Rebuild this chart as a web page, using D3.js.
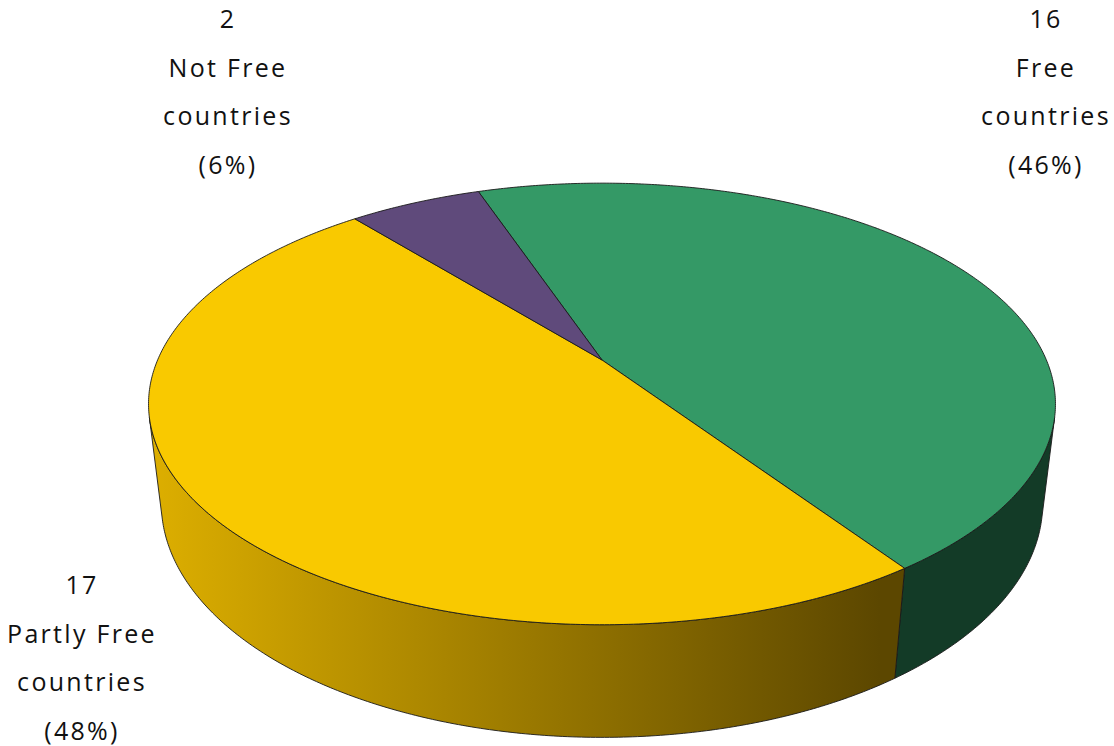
<!DOCTYPE html>
<html><head><meta charset="utf-8">
<script src="https://cdn.jsdelivr.net/npm/d3@7"></script>
<style>body{margin:0;background:#fff;overflow:hidden}</style>
</head><body>
<svg id="c" width="1114" height="746"></svg>
<script>
// ---- data ----
const categories = ["Free", "Partly Free", "Not Free"];
const counts = [16, 17, 2];
const percentLabels = ["46%", "48%", "6%"];
const labelWord = "countries";

// ---- styles ----
const topColors = ["#349966", "#F9C900", "#5F4A7B"];
const sideLight = ["#164330", "#DCAE00", "#4B3B62"];
const sideDark  = ["#133B27", "#5C4700", "#3A2D4C"];
const labelPos = [[1046, 28], [82, 594], [228, 28]]; // centre x, first baseline
const lineGap = 48.6;

const svg = d3.select("#c");

// ---- perspective projection of a flat cylinder ----
const phi = 28.5 * Math.PI / 180, Dist = 4.417, focal = 444.4 * Dist, depth = 0.258;
const cx = 602, cy = 360;
function proj(theta, h) {
  const x = Math.cos(theta), z = Math.sin(theta);
  const d = Dist - (h * Math.sin(phi) + z * Math.cos(phi));
  const u = h * Math.cos(phi) - z * Math.sin(phi);
  return [cx + focal * x / d, cy - focal * u / d];
}
function samples(t0, t1, h) {
  const n = Math.max(2, Math.ceil(Math.abs(t1 - t0) / (Math.PI / 360)));
  return d3.range(n + 1).map(i => proj(t0 + (t1 - t0) * i / n, h));
}
const line = d3.line();

const startDeg = -19.3;
const a0 = startDeg * Math.PI / 180;
const pie = d3.pie().sort(null).value(d => d).startAngle(a0).endAngle(a0 + 2 * Math.PI);
const arcs = pie(counts);

// gradients for walls
const defs = svg.append("defs");
arcs.forEach((a, i) => {
  const g = defs.append("linearGradient").attr("id", "side" + i)
    .attr("gradientUnits", "userSpaceOnUse")
    .attr("x1", 155).attr("x2", 880).attr("y1", 0).attr("y2", 0);
  g.append("stop").attr("offset", 0).attr("stop-color", sideLight[i]);
  g.append("stop").attr("offset", 1).attr("stop-color", sideDark[i]);
});

// visible range of outer wall
const tv0 = Math.asin(1 / (Dist * Math.cos(phi)));
const tv1 = Math.PI - tv0;

const walls = [];
arcs.forEach((a, i) => {
  const t0 = a.startAngle - Math.PI / 2, t1 = a.endAngle - Math.PI / 2;
  for (let k = -1; k <= 1; k++) {
    const lo = Math.max(t0, tv0 + 2 * Math.PI * k);
    const hi = Math.min(t1, tv1 + 2 * Math.PI * k);
    if (hi > lo) walls.push({ i, lo, hi });
  }
});

const gPie = svg.append("g");
gPie.selectAll("path.wall").data(walls).join("path")
  .attr("class", "wall")
  .attr("d", w => line(samples(w.lo, w.hi, 0).concat(samples(w.hi, w.lo, -depth))) + "Z")
  .attr("fill", w => `url(#side${w.i})`)
  .attr("stroke", "#1a1a1a").attr("stroke-width", 0.9).attr("stroke-linejoin", "round");

gPie.selectAll("path.top").data(arcs).join("path")
  .attr("class", "top")
  .attr("d", a => line([[cx, cy]].concat(
      samples(a.startAngle - Math.PI / 2, a.endAngle - Math.PI / 2, 0))) + "Z")
  .attr("fill", (a, i) => topColors[i])
  .attr("stroke", "#1a1a1a").attr("stroke-width", 0.9).attr("stroke-linejoin", "round");

// ---- labels ----
const gLab = svg.append("g")
  .attr("font-family", "'Open Sans', 'Noto Sans', sans-serif")
  .attr("font-size", 25).attr("letter-spacing", "2.3px").attr("fill", "#111")
  .attr("text-anchor", "middle");
categories.forEach((c, i) => {
  const lines = [String(counts[i]), c, labelWord, "(" + percentLabels[i] + ")"];
  const t = gLab.append("text");
  lines.forEach((s, j) => {
    t.append("tspan").attr("x", labelPos[i][0]).attr("y", labelPos[i][1] + j * lineGap).text(s);
  });
});
</script>
</body></html>
